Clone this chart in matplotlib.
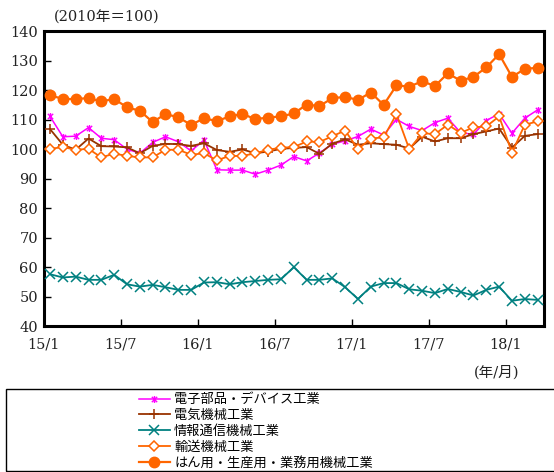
import matplotlib
matplotlib.use("Agg")
import matplotlib.pyplot as plt
import numpy as np
from matplotlib.path import Path
from matplotlib.patches import Rectangle

# ================= DATA (2010 = 100) =================
months = [f"{y}/{m}" for y in (15, 16, 17, 18) for m in range(1, 13)][:39]
tick_labels = ["15/1", "15/7", "16/1", "16/7", "17/1", "17/7", "18/1"]

denshi = [111.1, 104.2, 104.4, 107.3, 103.7, 103.2, 100.0, 98.6, 102.3, 104.2,
          102.5, 99.4, 103.1, 93.0, 92.9, 92.9, 91.5, 92.9, 94.6, 97.5,
          96.0, 98.7, 101.7, 102.8, 104.3, 106.8, 104.8, 110.1, 107.7, 106.3,
          109.0, 110.5, 105.6, 105.0, 109.7, 112.0, 105.4, 110.5, 113.3]
denki = [106.8, 101.5, 99.8, 103.6, 101.0, 100.9, 100.6, 98.6, 101.1, 101.8,
         101.7, 101.1, 102.0, 99.7, 99.1, 99.9, 98.6, 99.2, 100.1, 100.4,
         100.7, 98.4, 101.9, 103.3, 101.5, 102.0, 101.7, 101.5, 100.2, 104.2,
         102.6, 103.7, 103.7, 105.1, 106.0, 107.0, 100.5, 104.5, 105.1]
joho = [57.6, 56.5, 56.8, 55.7, 55.7, 57.4, 54.2, 53.4, 54.0, 53.2,
        52.3, 52.3, 54.8, 54.9, 54.2, 54.9, 55.3, 55.7, 55.9, 60.0,
        55.7, 55.7, 56.2, 53.2, 49.2, 53.4, 54.6, 54.6, 52.5, 52.0,
        51.2, 52.6, 51.6, 50.4, 52.3, 53.4, 48.6, 49.2, 48.9]
yuso = [100.1, 100.7, 99.8, 100.1, 97.2, 98.5, 97.7, 97.2, 97.2, 99.8,
        99.8, 98.1, 98.6, 96.2, 97.7, 97.7, 98.6, 99.8, 100.5, 100.7,
        102.6, 102.4, 104.4, 106.3, 100.0, 103.6, 104.0, 111.9, 100.0, 105.4,
        105.1, 108.3, 105.5, 107.4, 107.7, 111.1, 98.8, 108.3, 109.4]
hanyo = [118.3, 117.0, 117.0, 117.3, 116.2, 117.0, 114.2, 113.0, 109.2, 111.9,
         110.8, 108.2, 110.5, 109.5, 111.1, 111.9, 110.2, 110.7, 111.1, 112.1,
         115.1, 114.6, 117.3, 117.7, 116.7, 119.2, 115.0, 121.6, 121.2, 123.0,
         121.4, 125.7, 123.2, 124.5, 127.7, 132.2, 124.5, 127.2, 127.6]

labels = ["電子部品・デバイス工業", "電気機械工業", "情報通信機械工業",
          "輸送機械工業", "はん用・生産用・業務用機械工業"]
# =====================================================

plt.rcParams["font.family"] = ["DejaVu Serif", "Noto Sans CJK JP"]

# asterisk marker: an x with a vertical stroke
star = Path([(-1, -1), (1, 1), (-1, 1), (1, -1), (0, -1.3), (0, 1.3)],
            [Path.MOVETO, Path.LINETO, Path.MOVETO, Path.LINETO, Path.MOVETO, Path.LINETO])

fig = plt.figure(figsize=(5.54, 4.72), dpi=100)
ax = fig.add_axes([0.0787, 0.309, 0.9033, 0.625])

x = np.arange(len(months))
lines = []
lines += ax.plot(x, denshi, color="#FF00FF", lw=1.1, marker=star, ms=5,
                 mew=1.0, label=labels[0], zorder=3)
lines += ax.plot(x, denki, color="#993300", lw=1.3, marker="+", ms=7,
                 mew=1.1, label=labels[1], zorder=4)
lines += ax.plot(x, joho, color="#008080", lw=1.3, marker="x", ms=7,
                 mew=1.1, label=labels[2], zorder=3)
lines += ax.plot(x, yuso, color="#FF6600", lw=1.3, marker="D", ms=5,
                 mfc="white", mec="#FF6600", mew=1.1, label=labels[3], zorder=5)
lines += ax.plot(x, hanyo, color="#FF6600", lw=1.6, marker="o", ms=7.5,
                 mfc="#FF6600", mec="#FF6600", label=labels[4], zorder=6)

ax.set_xlim(-0.5, len(months) - 0.5)
ax.set_ylim(40, 140)
ax.set_yticks(np.arange(40, 141, 10))
ax.set_xticks([months.index(t) - 0.5 for t in tick_labels])
ax.set_xticklabels(tick_labels)
ax.tick_params(direction="in", length=5, width=1, colors="black",
               labelsize=10.5, labelcolor="#222222")
ax.tick_params(axis="x", pad=8)
ax.tick_params(axis="y", pad=4)
for s in ax.spines.values():
    s.set_linewidth(2.2)
    s.set_color("black")

fig.text(0.097, 0.963, "(2010年＝100)", fontsize=10.5, color="#222222",
         ha="left", va="center")
fig.text(0.937, 0.21, "(年/月)", fontsize=10.5, color="#222222",
         ha="right", va="center")

# legend frame runs off the right edge
fig.patches.append(Rectangle((6 / 554, 1 / 472), 1.2, 82 / 472,
                             transform=fig.transFigure, fill=False,
                             edgecolor="black", lw=1.0, clip_on=False))
fig.legend(handles=lines, loc="upper left", bbox_to_anchor=(0.25, 0.167),
           frameon=False, handlelength=2.4, handletextpad=0.3,
           labelspacing=0.22, borderpad=0, borderaxespad=0,
           prop={"family": ["Noto Sans CJK JP"], "size": 9.5})

plt.savefig("out.png", dpi=100)
